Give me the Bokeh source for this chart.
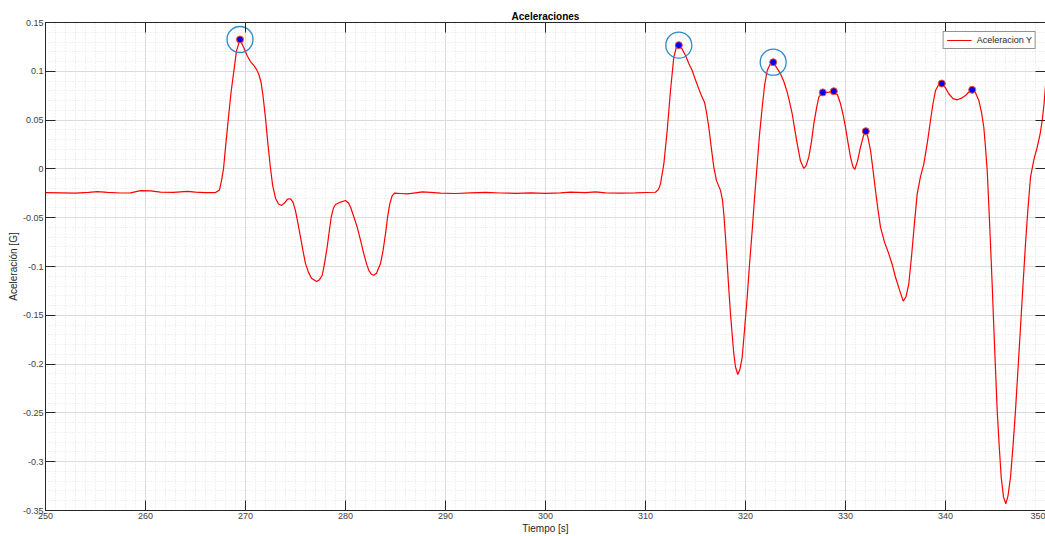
from bokeh.plotting import figure
from bokeh.models import (LinearAxis, FixedTicker, CustomJSTickFormatter, Legend, LegendItem)
from bokeh.embed import file_html
from bokeh.resources import INLINE
import numpy as np

# ---- data ----
time = [250.0, 251.5, 253.0, 254.3, 255.2, 256.2, 257.5, 258.5, 259.5, 260.5, 261.5, 262.8, 263.5, 264.2,
        265.0, 266.0, 267.0, 267.4, 267.6, 267.8, 268.0, 268.27, 268.55, 268.83, 269.1, 269.45, 269.8,
        270.17, 270.5, 270.83, 271.1, 271.33, 271.55, 271.75, 272.0, 272.2, 272.45, 272.7, 273.0, 273.3,
        273.6, 273.9, 274.2, 274.5, 274.75, 275.0, 275.25, 275.5, 275.75, 276.0, 276.3, 276.6, 277.1,
        277.4, 277.67, 277.9, 278.17, 278.4, 278.57, 278.8, 279.0, 279.5, 280.0, 280.3, 280.5, 280.8,
        281.17, 281.5, 281.83, 282.1, 282.33, 282.6, 282.83, 283.1, 283.5, 283.75, 284.0, 284.2, 284.43,
        284.65, 284.9, 285.5, 286.17, 287.0, 287.67, 288.5, 289.5, 291.0, 292.5, 294.0, 295.5, 297.0,
        298.5, 300.0, 301.5, 302.5, 304.0, 305.0, 306.0, 307.5, 309.0, 310.0, 311.0, 311.3, 311.5, 311.83,
        312.17, 312.5, 312.83, 313.1, 313.33, 313.6, 314.0, 314.33, 314.67, 315.0, 315.33, 315.6, 315.9,
        316.1, 316.33, 316.6, 316.83, 317.1, 317.5, 317.7, 317.83, 318.0, 318.17, 318.33, 318.5, 318.67,
        318.83, 319.0, 319.23, 319.45, 319.67, 319.9, 320.17, 320.4, 320.67, 320.9, 321.17, 321.4, 321.67,
        321.9, 322.17, 322.45, 322.77, 323.1, 323.5, 323.85, 324.17, 324.4, 324.67, 324.9, 325.17, 325.5,
        325.83, 326.05, 326.33, 326.6, 326.83, 327.1, 327.33, 327.73, 328.0, 328.33, 328.83, 329.2, 329.5,
        329.75, 330.0, 330.25, 330.5, 330.75, 330.93, 331.2, 331.5, 331.8, 332.03, 332.25, 332.5, 332.75,
        333.0, 333.25, 333.5, 333.9, 334.33, 334.7, 335.0, 335.4, 335.77, 336.05, 336.33, 336.6, 336.9,
        337.17, 337.5, 337.83, 338.2, 338.5, 338.75, 339.0, 339.3, 339.63, 340.0, 340.33, 340.75, 341.17,
        341.6, 342.0, 342.35, 342.67, 343.0, 343.33, 343.6, 343.83, 344.0, 344.17, 344.33, 344.5, 344.67,
        344.83, 345.0, 345.17, 345.37, 345.57, 345.8, 346.03, 346.25, 346.5, 346.75, 347.0, 347.25, 347.5,
        347.75, 348.0, 348.25, 348.5, 348.85, 349.17, 349.45, 349.67, 349.85, 350.0]
accel = [-0.0244, -0.0246, -0.0248, -0.0240, -0.0232, -0.0240, -0.0247, -0.0245, -0.0222, -0.0225, -0.0237,
         -0.0240, -0.0235, -0.0230, -0.0238, -0.0243, -0.0243, -0.0215, -0.012, 0.000, 0.022, 0.050, 0.078,
         0.100, 0.121, 0.1326, 0.125, 0.116, 0.110, 0.106, 0.102, 0.097, 0.089, 0.075, 0.052, 0.030, 0.005,
         -0.016, -0.030, -0.036, -0.0375, -0.035, -0.031, -0.0306, -0.034, -0.043, -0.056, -0.070, -0.084,
         -0.097, -0.106, -0.112, -0.1154, -0.1135, -0.109, -0.097, -0.080, -0.062, -0.0495, -0.040, -0.0365,
         -0.034, -0.0324, -0.035, -0.039, -0.048, -0.0597, -0.073, -0.087, -0.097, -0.104, -0.108, -0.109,
         -0.107, -0.097, -0.084, -0.0665, -0.050, -0.0358, -0.028, -0.0249, -0.0252, -0.0256, -0.0245,
         -0.0236, -0.024, -0.0249, -0.0252, -0.0245, -0.0240, -0.0247, -0.0250, -0.0246, -0.0250, -0.0245,
         -0.0238, -0.0243, -0.0236, -0.0245, -0.0248, -0.0245, -0.0242, -0.0239, -0.021, -0.0153, 0.0048,
         0.0393, 0.0803, 0.1145, 0.125, 0.1268, 0.124, 0.1162, 0.108, 0.1008, 0.091, 0.082, 0.075, 0.0684,
         0.058, 0.0427, 0.020, 0.0018, -0.012, -0.022, -0.032, -0.046, -0.070, -0.097, -0.123, -0.1485,
         -0.170, -0.1894, -0.203, -0.2107, -0.205, -0.193, -0.165, -0.1315, -0.098, -0.063, -0.030, 0.0048,
         0.035, 0.0632, 0.085, 0.1008, 0.107, 0.1093, 0.104, 0.0974, 0.089, 0.0786, 0.069, 0.0565, 0.042,
         0.0258, 0.008, 0.0005, 0.003, 0.012, 0.028, 0.0462, 0.062, 0.0735, 0.0784, 0.078, 0.0786, 0.0796,
         0.076, 0.0667, 0.056, 0.0427, 0.027, 0.012, 0.002, -0.0006, 0.008, 0.0222, 0.034, 0.0386, 0.032,
         0.0191, -0.001, -0.0221, -0.042, -0.0597, -0.075, -0.087, -0.099, -0.111, -0.124, -0.1355, -0.131,
         -0.1177, -0.090, -0.055, -0.0256, -0.008, 0.0048, 0.028, 0.0496, 0.067, 0.0803, 0.086, 0.0875,
         0.083, 0.077, 0.072, 0.0708, 0.0725, 0.0752, 0.079, 0.081, 0.078, 0.0701, 0.058, 0.0427, 0.022,
         -0.0016, -0.037, -0.0767, -0.119, -0.1622, -0.205, -0.2475, -0.284, -0.3159, -0.336, -0.3432,
         -0.335, -0.3159, -0.284, -0.2475, -0.205, -0.1622, -0.119, -0.0767, -0.040, -0.0085, 0.010,
         0.0222, 0.035, 0.0496, 0.066, 0.0855]

peak_t = [269.45, 313.33, 322.77, 327.73, 328.83, 332.03, 339.63, 342.67]
peak_a = [0.1326, 0.1268, 0.1093, 0.0784, 0.0796, 0.0386, 0.0875, 0.081]
circled_t = [269.45, 313.33, 322.77]
circled_a = [0.1326, 0.1268, 0.1093]

x_ticks = [250, 260, 270, 280, 290, 300, 310, 320, 330, 340, 350]
y_ticks = [-0.35, -0.3, -0.25, -0.2, -0.15, -0.1, -0.05, 0, 0.05, 0.1, 0.15]

FONT = "Liberation Sans"
AX = "#262626"

p = figure(width=1045, height=536, output_backend="svg", toolbar_location=None,
           x_range=(250, 350), y_range=(-0.35, 0.15),
           min_border_left=45, min_border_right=0, min_border_top=22, min_border_bottom=26,
           title="Aceleraciones")
p.background_fill_color = "white"
p.border_fill_color = "white"
p.outline_line_color = None
p.title.align = "center"
p.title.text_font = FONT
p.title.text_font_size = "10px"
p.title.text_font_style = "bold"
p.title.text_color = "black"
p.title.standoff = 1
p.title.offset = 0

xt = FixedTicker(ticks=x_ticks, minor_ticks=list(np.arange(250, 351, 1)))
yt = FixedTicker(ticks=y_ticks, minor_ticks=list(np.round(np.arange(-0.35, 0.1501, 0.01), 3)))
yfmt = CustomJSTickFormatter(code="return String(Math.round(tick*100)/100);")
blankfmt = CustomJSTickFormatter(code="return '';")

for ax in (p.xaxis[0], p.yaxis[0]):
    ax.major_tick_in = 10
    ax.major_tick_out = 0
    ax.minor_tick_in = 0
    ax.minor_tick_out = 0
    ax.axis_line_color = AX
    ax.major_tick_line_color = AX
    ax.major_label_text_font = FONT
    ax.major_label_text_font_size = "9px"
    ax.major_label_text_color = "#404040"
    ax.axis_label_text_font = FONT
    ax.axis_label_text_font_size = "10px"
    ax.axis_label_text_font_style = "normal"
    ax.axis_label_text_color = "#262626"
    ax.major_label_standoff = 2
    ax.axis_label_standoff = 1

p.xaxis[0].ticker = xt
p.yaxis[0].ticker = yt
p.yaxis[0].formatter = yfmt
p.xaxis[0].axis_label = "Tiempo [s]"
p.yaxis[0].axis_label = "Aceleración [G]"

for loc, tk in (("above", xt), ("right", yt)):
    a = LinearAxis(ticker=tk, formatter=blankfmt, major_tick_in=10, major_tick_out=0,
                   minor_tick_in=0, minor_tick_out=0,
                   axis_line_color=AX, major_tick_line_color=AX, major_label_text_font_size="9px",
                   major_label_standoff=0)
    p.add_layout(a, loc)

for g, tk in ((p.xgrid[0], xt), (p.ygrid[0], yt)):
    g.ticker = tk
    g.grid_line_color = "#dcdcdc"
    g.grid_line_width = 1
    g.minor_grid_line_color = "#e3e3e3"
    g.minor_grid_line_dash = "1 2"
    g.minor_grid_line_width = 1

ln = p.line(time, accel, line_color="red", line_width=1.2)
p.scatter(peak_t, peak_a, size=7, fill_color="blue", line_color="#ff5020", line_width=1)
p.scatter(circled_t, circled_a, size=26, fill_color=None, line_color="#2a8ccc", line_width=1.3)

legend = Legend(items=[LegendItem(label="Aceleracion Y", renderers=[ln])], location="top_right")
legend.margin = 9
legend.padding = 3
legend.spacing = 0
legend.label_text_font = FONT
legend.label_text_font_size = "9px"
legend.label_text_color = "#262626"
legend.label_height = 6
legend.glyph_height = 6
legend.glyph_width = 25
legend.label_standoff = 5
legend.border_line_color = AX
legend.border_line_width = 1
legend.background_fill_color = "white"
legend.background_fill_alpha = 1
p.add_layout(legend)

open("out.html", "w").write(file_html(p, INLINE))
